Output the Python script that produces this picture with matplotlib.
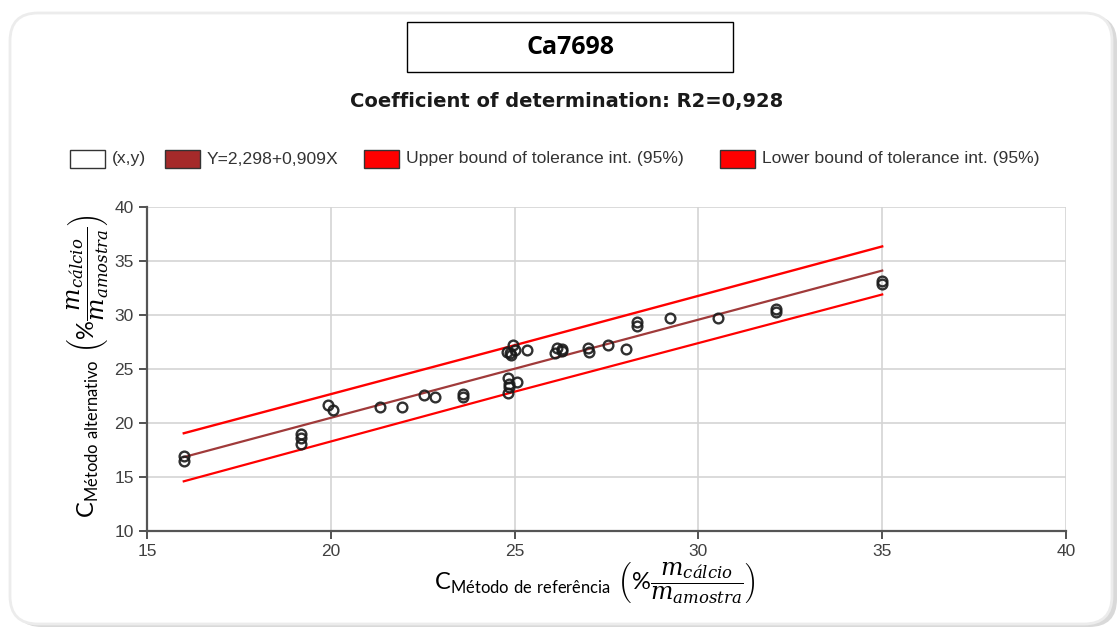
import matplotlib
matplotlib.use("Agg")
import matplotlib.pyplot as plt
from matplotlib.patches import FancyBboxPatch, Rectangle
import numpy as np

# ---- data ----
x_ref = [16.0, 16.0, 19.2, 19.2, 19.2, 19.93, 20.06, 21.34, 21.94, 22.54, 22.84,
         23.6, 23.6, 24.82, 24.85, 24.82, 24.85, 25.07, 24.8, 24.9, 24.97, 24.88,
         25.0, 25.35, 26.1, 26.16, 26.3, 26.3, 27.0, 27.03, 27.54, 28.03, 28.33,
         28.33, 29.23, 30.54, 32.1, 32.1, 35.0, 35.0]
y_alt = [16.9, 16.5, 19.0, 18.6, 18.1, 21.67, 21.2, 21.5, 21.45, 22.6, 22.4,
         22.7, 22.4, 22.8, 23.3, 24.2, 23.6, 23.8, 26.6, 26.3, 27.2, 26.5,
         26.8, 26.76, 26.5, 26.9, 26.85, 26.7, 26.9, 26.6, 27.2, 26.85, 29.35,
         29.0, 29.7, 29.7, 30.6, 30.3, 33.15, 32.9]

intercept = 2.298
slope = 0.909
fit_x = [16.0, 35.0]
tol_x = [16.0, 25.0, 35.0]
upper_y = [19.05, 27.2, 36.35]
lower_y = [14.6, 22.9, 31.9]

x_ticks = [15, 20, 25, 30, 35, 40]
y_ticks = [10, 15, 20, 25, 30, 35, 40]

title = "Ca7698"
subtitle = "Coefficient of determination: R2=0,928"
legend_labels = ["(x,y)", "Y=2,298+0,909X",
                 "Upper bound of tolerance int. (95%)",
                 "Lower bound of tolerance int. (95%)"]

# ---- style ----
plt.rcParams['mathtext.fontset'] = 'custom'
plt.rcParams['mathtext.rm'] = 'Lato'
plt.rcParams['mathtext.it'] = 'DejaVu Serif:italic'
plt.rcParams['mathtext.bf'] = 'Lato:bold'

W, H = 1119, 630
fig = plt.figure(figsize=(W / 100, H / 100), dpi=100)
fig.patch.set_facecolor('white')

def fy(py):
    return H - py

# outer rounded frame with shadow
shadow = FancyBboxPatch((14, fy(627)), 1103, 612, boxstyle="round,pad=0,rounding_size=28",
                        transform=None, facecolor='#d9d9d9', edgecolor='none', zorder=-3)
fig.patches.append(shadow)
frame = FancyBboxPatch((10, fy(624)), 1102, 611, boxstyle="round,pad=0,rounding_size=28",
                       transform=None, facecolor='white', edgecolor='#ececec', lw=2, zorder=-2)
fig.patches.append(frame)

# title box
tb = Rectangle((407, fy(72)), 326, 50, transform=None, facecolor='white',
               edgecolor='black', lw=1.0, zorder=2)
fig.patches.append(tb)
fig.text(570 / W, fy(48) / H, title, ha='center', va='center', fontsize=18,
         fontweight='bold', family='Open Sans', color='black', zorder=3)
fig.text(567 / W, fy(102) / H, subtitle, ha='center', va='center', fontsize=14,
         fontweight='bold', family='DejaVu Sans', color='#1a1a1a')

# legend (manual)
leg_items = [(70, '#ffffff', legend_labels[0]),
             (165, '#a52a2a', legend_labels[1]),
             (364, '#ff0000', legend_labels[2]),
             (720, '#ff0000', legend_labels[3])]
for lx, col, lab in leg_items:
    r = Rectangle((lx, fy(168)), 35, 18, transform=None, facecolor=col,
                  edgecolor='#333333', lw=1.0, zorder=2)
    fig.patches.append(r)
    fig.text((lx + 42) / W, fy(159) / H, lab, ha='left', va='center',
             fontsize=12.6, family='Liberation Sans', color='#333333')

# axes
ax = fig.add_axes([147 / W, fy(531) / H, (1066 - 147) / W, (531 - 207) / H])
ax.patch.set_alpha(0)
ax.set_xlim(15, 40)
ax.set_ylim(10, 40)
ax.set_xticks(x_ticks)
ax.set_yticks(y_ticks)
ax.grid(True, color='#d4d4d4', lw=1.2, zorder=0)
ax.set_axisbelow(True)
for s in ['top', 'right']:
    ax.spines[s].set_visible(False)
for s in ['left', 'bottom']:
    ax.spines[s].set_color('#555555')
    ax.spines[s].set_linewidth(1.6)
ax.tick_params(axis='both', direction='out', length=6, width=1.3, color='#444444',
               labelsize=12.5, labelcolor='#404040')
for lbl in ax.get_xticklabels() + ax.get_yticklabels():
    lbl.set_family('Liberation Sans')

fx = np.array(fit_x)
ax.plot(tol_x, upper_y, color='#ff0000', lw=1.7, zorder=3)
ax.plot(tol_x, lower_y, color='#ff0000', lw=1.6, zorder=3)
ax.plot(fx, intercept + slope * fx, color='#a03a3a', lw=1.6, zorder=3)
ax.plot(x_ref, y_alt, linestyle='none', marker='o', ms=7, mfc='none',
        mec='#1a1a1a', mew=1.7, zorder=4, alpha=0.9)

# axis labels
xlab = r'$\mathrm{C}_{\mathrm{Método\ de\ referência}}\ \left(\%\dfrac{m_{cálcio}}{m_{amostra}}\right)$'
ylab = r'$\mathrm{C}_{\mathrm{Método\ alternativo}}\ \left(\%\dfrac{m_{cálcio}}{m_{amostra}}\right)$'
fig.text(595 / W, fy(583) / H, xlab, ha='center', va='center', fontsize=17, color='black')
fig.text(88 / W, fy(366) / H, ylab, ha='center', va='center', fontsize=17,
         color='black', rotation=90)

fig.savefig('out.png', dpi=100, facecolor='white')
